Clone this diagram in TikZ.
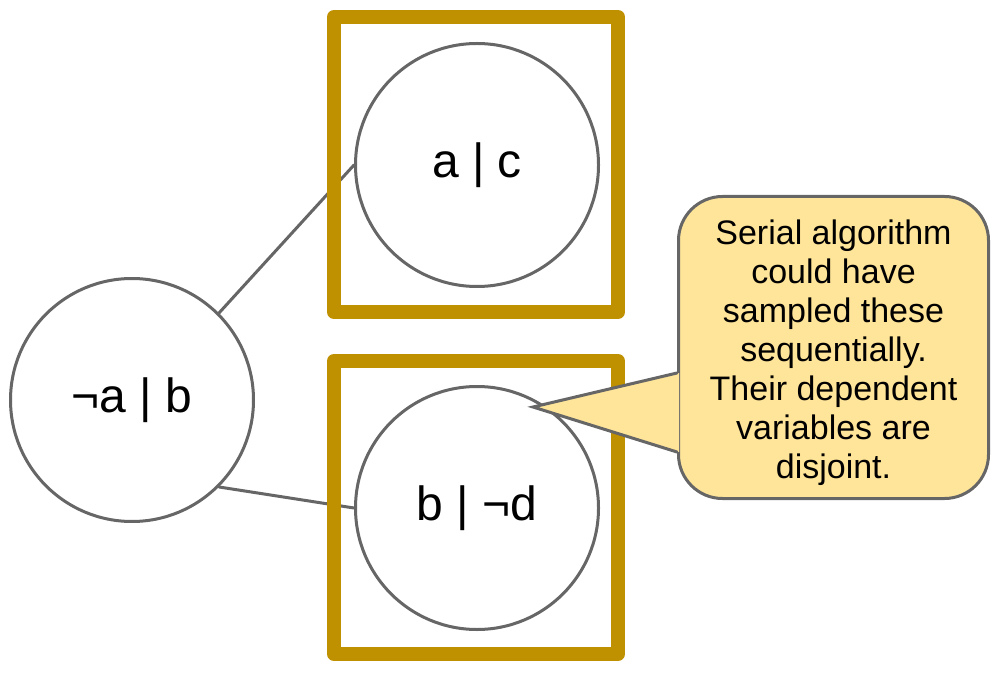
\documentclass[tikz,border=0pt]{standalone}
\usepackage{fontspec}
\setmainfont{Liberation Sans}
\usetikzlibrary{calc}
\definecolor{boxgold}{HTML}{BF9000}
\definecolor{notefill}{HTML}{FFE599}
\definecolor{linegray}{HTML}{666666}
\begin{document}
\begin{tikzpicture}[font=\fontsize{24}{28}\selectfont,line cap=round,line join=round,x=.5pt,y=-.5pt,
		var/.style={circle,draw=linegray,line width=1.5pt,fill=white,minimum size=121.5pt,inner sep=0pt},
		edge/.style={draw=linegray,line width=1.5pt},
		group/.style={draw=boxgold,line width=7pt},
		note/.style={rectangle,rounded corners=22pt,draw=linegray,fill=notefill,line width=1.5pt,
			minimum width=155pt,minimum height=151pt,align=center,font=\fontsize{17}{19.5}\selectfont}]
	\useasboundingbox (0,0) rectangle (996,684);
	\node[var] (nota) at (132,400) {¬a | b};
	\node[var] (ac) at (477,165) {a | c};
	\node[var] (bd) at (477,508) {b | ¬d};
	\draw[edge] (nota.45) -- (ac.west);
	\draw[edge] (nota.-45) -- (bd.west);
	\draw[group] (334,17) rectangle (618,312);
	\draw[group] (334,361) rectangle (618,654);
	\node[note] (hint) at (833.5,347.5) {\rule{0pt}{18pt}Serial algorithm\\could have\\sampled these\\sequentially.\\Their dependent\\variables are\\disjoint.};
	\coordinate (tip) at (533,407);
	\fill[notefill] ($(hint.west)+(2,25.5)$) -- (tip) -- ($(hint.west)+(2,104.5)$) -- cycle;
	\draw[edge,line join=miter] ($(hint.west)+(0,25.5)$) -- (tip) -- ($(hint.west)+(0,104.5)$);
\end{tikzpicture}
\end{document}
